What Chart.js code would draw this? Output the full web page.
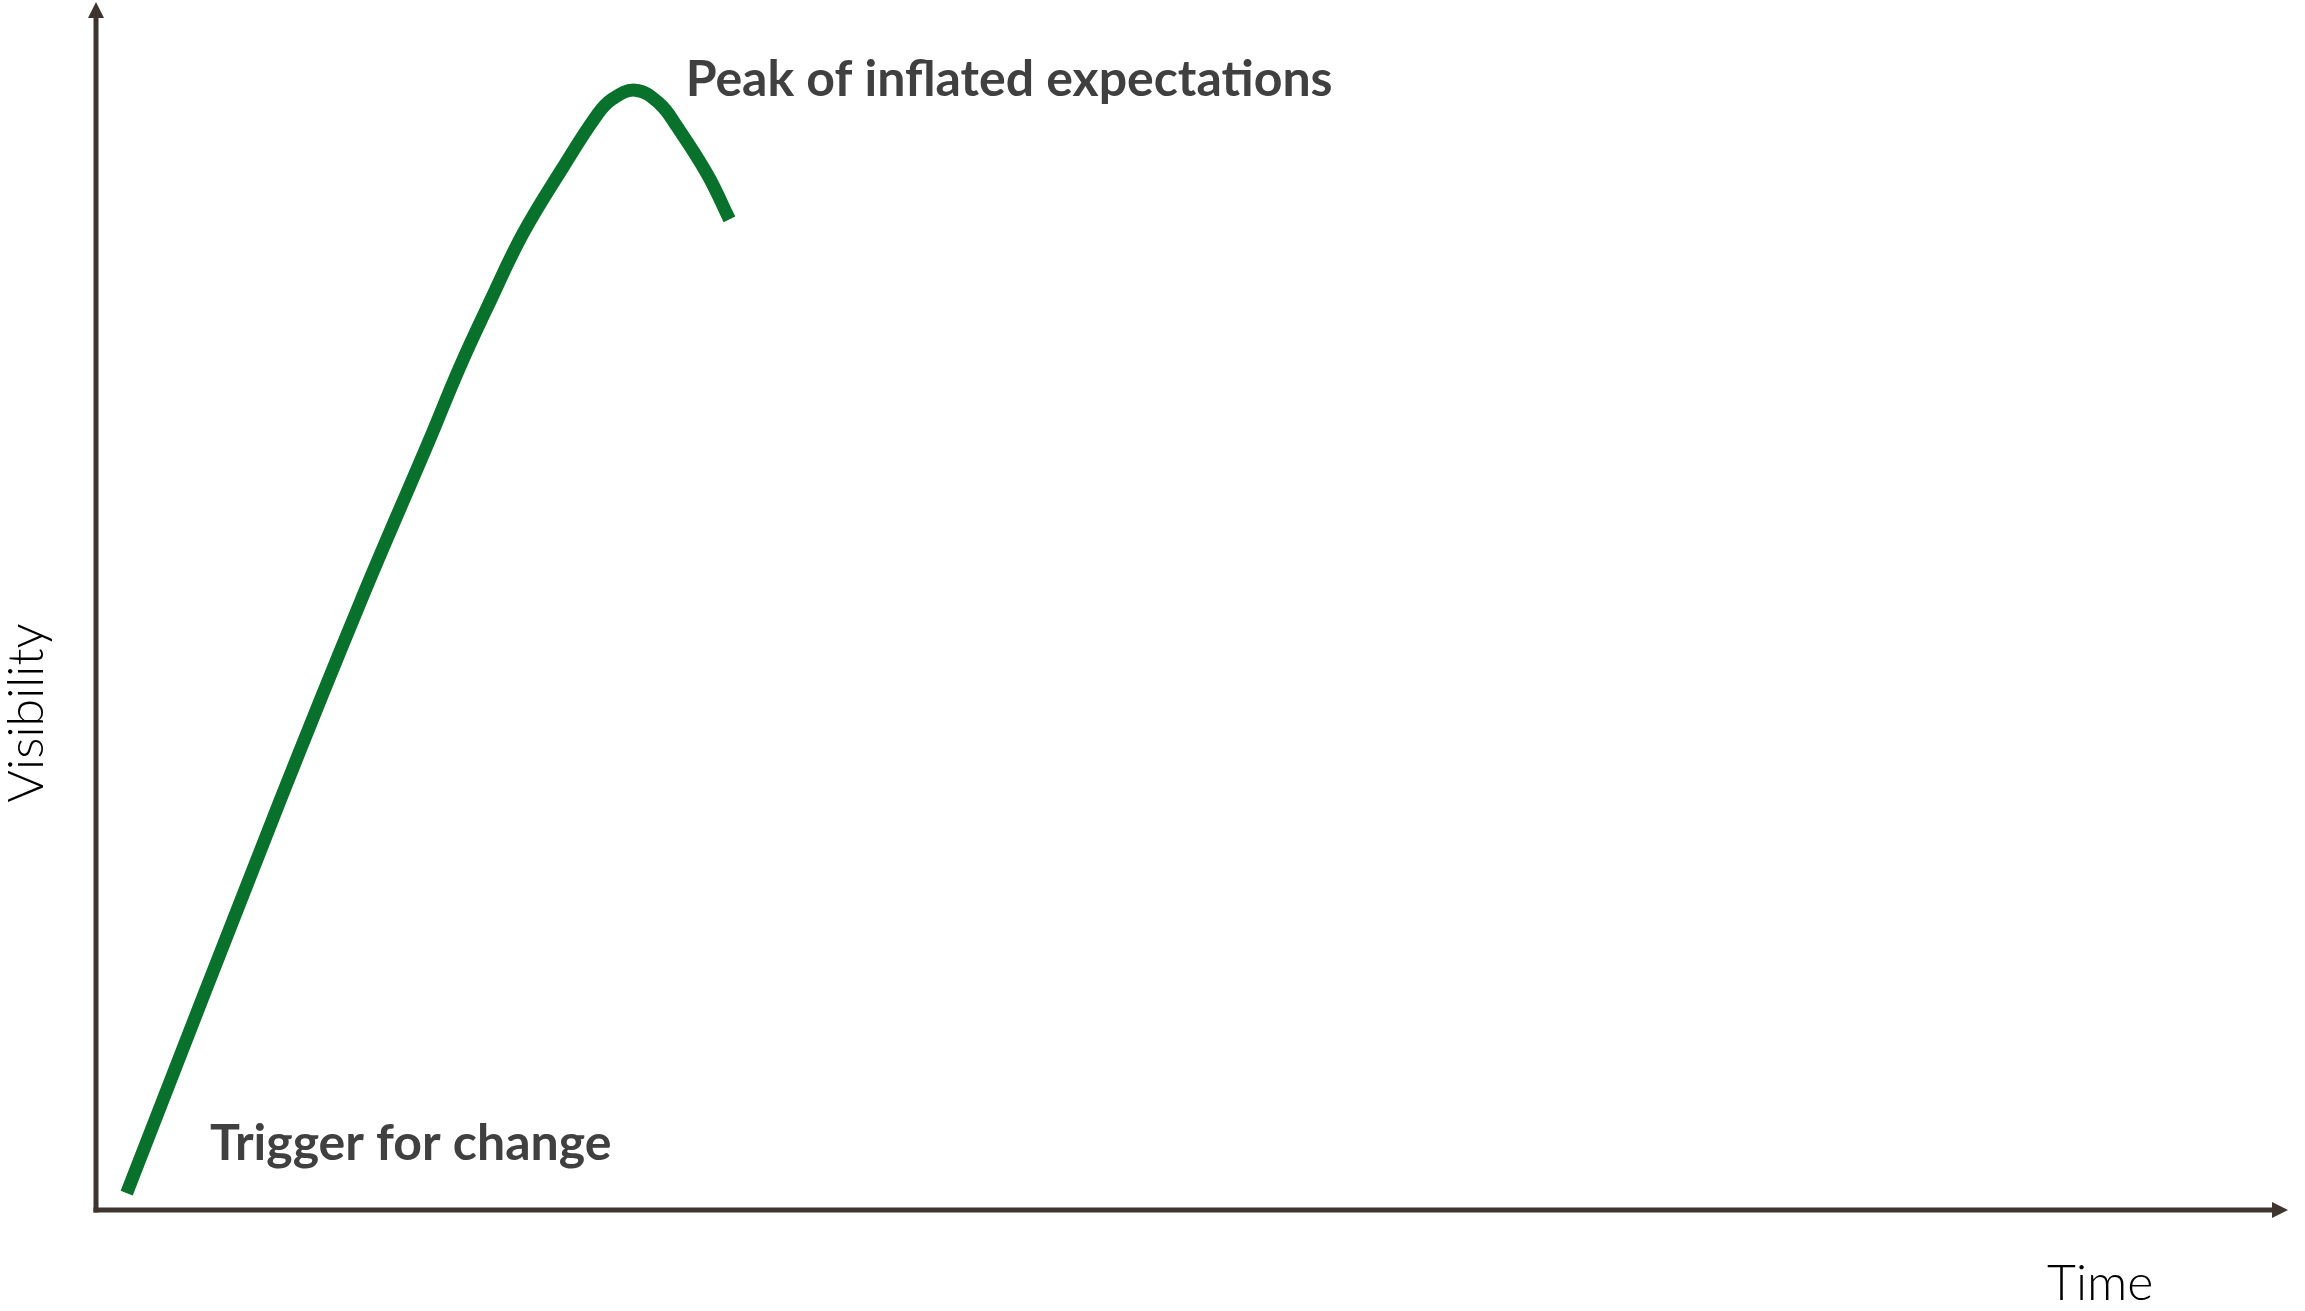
<!DOCTYPE html>
<html>
<head>
<meta charset="utf-8">
<script src="https://cdn.jsdelivr.net/npm/chart.js@4.4.1/dist/chart.umd.min.js"></script>
<style>
  html, body { margin: 0; padding: 0; background: #fff; }
  #wrap { width: 2305px; height: 1311px; position: relative; }
</style>
</head>
<body>
<div id="wrap"><canvas id="hypeChart"></canvas></div>
<script>
// time / visibility, both on a 0..100 scale
const timeValues = [1.4, 8.4, 12.1, 15.2, 16.6, 18.0, 19.5, 21.3, 22.8, 23.5, 24.6, 25.7, 26.5, 27.9, 28.9];
const visibilityValues = [1.4, 33.9, 50.5, 63.7, 69.8, 75.3, 80.9, 86.3, 90.5, 91.9, 92.7, 91.6, 89.7, 85.7, 82.0];

const phaseLabels = ['Trigger for change', 'Peak of inflated expectations'];
const phaseTime = [5.2, 26.9];
const phaseVisibility = [4.1, 92.2];

const xAxisTitle = 'Time';
const yAxisTitle = 'Visibility';

const points = timeValues.map((t, i) => ({ x: t, y: visibilityValues[i] }));

const axisColor = '#3d352e';

// draws the two arrowed axes, their titles and the phase labels
const hypeDecor = {
    id: 'hypeDecor',
    beforeDatasetsDraw(chart) {
        const { ctx, chartArea } = chart;
        const { left, right, top, bottom } = chartArea;
        ctx.save();
        ctx.strokeStyle = axisColor;
        ctx.fillStyle = axisColor;
        ctx.lineWidth = 5;

        // y axis
        ctx.beginPath();
        ctx.moveTo(left, bottom + 2.5);
        ctx.lineTo(left, top + 14);
        ctx.stroke();
        ctx.beginPath();
        ctx.moveTo(left, top);
        ctx.lineTo(left - 8, top + 16);
        ctx.lineTo(left + 8, top + 16);
        ctx.closePath();
        ctx.fill();

        // x axis
        ctx.beginPath();
        ctx.moveTo(left - 2.5, bottom);
        ctx.lineTo(right - 14, bottom);
        ctx.stroke();
        ctx.beginPath();
        ctx.moveTo(right, bottom);
        ctx.lineTo(right - 16, bottom - 8);
        ctx.lineTo(right - 16, bottom + 8);
        ctx.closePath();
        ctx.fill();
        ctx.restore();
    },
    afterDraw(chart) {
        const { ctx, chartArea, scales } = chart;
        ctx.save();

        // axis titles
        ctx.fillStyle = '#000';
        ctx.font = '300 50px Lato, "Liberation Sans", sans-serif';
        ctx.textBaseline = 'alphabetic';
        ctx.textAlign = 'left';
        ctx.fillText(xAxisTitle, 2047, chartArea.bottom + 90);

        ctx.translate(chartArea.left - 53, 713);
        ctx.rotate(-Math.PI / 2);
        ctx.textAlign = 'center';
        ctx.fillText(yAxisTitle, 0, 0);
        ctx.restore();

        // phase labels
        ctx.save();
        ctx.fillStyle = '#404040';
        ctx.font = 'bold 50px Lato, "Open Sans", sans-serif';
        ctx.textAlign = 'left';
        ctx.textBaseline = 'alphabetic';
        phaseLabels.forEach((label, i) => {
            const px = scales.x.getPixelForValue(phaseTime[i]);
            const py = scales.y.getPixelForValue(phaseVisibility[i]);
            ctx.fillText(label, px, py);
        });
        ctx.restore();
    }
};

new Chart(document.getElementById('hypeChart'), {
    type: 'line',
    data: {
        datasets: [{
            label: 'Hype cycle',
            data: points,
            borderColor: '#08722c',
            borderWidth: 13,
            pointRadius: 0,
            fill: false,
            tension: 0.4,
            borderCapStyle: 'butt',
            borderJoinStyle: 'round',
            clip: false
        }]
    },
    options: {
        responsive: true,
        maintainAspectRatio: false,
        animation: false,
        layout: {
            padding: { left: 96, right: 17, top: 2, bottom: 101 }
        },
        plugins: {
            legend: { display: false },
            tooltip: { enabled: false },
            title: { display: false }
        },
        scales: {
            x: { type: 'linear', min: 0, max: 100, display: false },
            y: { type: 'linear', min: 0, max: 100, display: false }
        }
    },
    plugins: [hypeDecor]
});
</script>
</body>
</html>
